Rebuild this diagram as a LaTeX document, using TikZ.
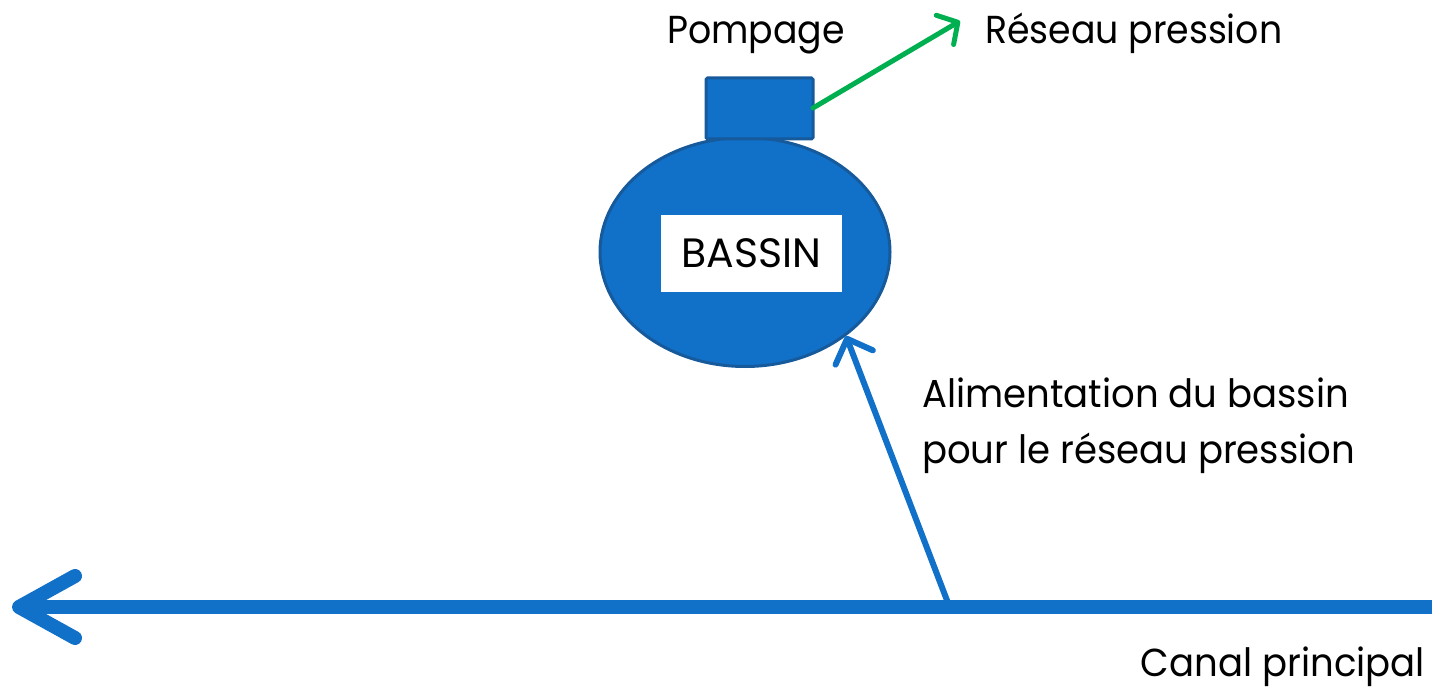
\documentclass[tikz,border=0pt]{standalone}
\usepackage{fontspec}
\setmainfont{Poppins}[FakeStretch=0.93]
\newfontfamily\titrefont{Poppins}
\newfontfamily\widefont{Poppins}[FakeStretch=0.95]
\usetikzlibrary{shapes.geometric,arrows.meta}
\definecolor{bleu}{HTML}{1170C8}
\definecolor{bord}{HTML}{175A9C}
\definecolor{vert}{HTML}{00B050}
\tikzset{
  bloc/.style={fill=bleu,draw=bord,line width=3pt},
  lbl/.style={inner sep=0pt,font=\fontsize{39}{45}\selectfont,text=black},
  barb/.style n args={2}{-{Straight Barb[length=#1,width=#2,round]}}
}
\begin{document}
\begin{tikzpicture}[x=1pt,y=-1pt]
\useasboundingbox (0,0) rectangle (1432,687);
\node[bloc,ellipse,minimum width=290pt,minimum height=229pt,inner sep=0pt] (bassin) at (745,252) {};
\node[bloc,rectangle,rounded corners=1.5pt,minimum width=107pt,minimum height=61pt,inner sep=0pt] (pompe) at (759.5,108.5) {};
\node[fill=white,minimum width=181pt,minimum height=77pt,inner sep=0pt,font=\titrefont\fontsize{41}{46}\selectfont] (titre) at (751.5,253.5) {BASSIN};
\node[lbl,anchor=base west] (pompage) at (667,44) {Pompage};
\node[lbl,anchor=base west] (reseau) at (985,44) {Réseau pression};
\node[lbl,anchor=base west,font=\widefont\fontsize{39}{45}\selectfont] (alim) at (922,407) {Alimentation du bassin};
\node[lbl,anchor=base west,font=\widefont\fontsize{39}{45}\selectfont] (alim2) at (922,463) {pour le réseau pression};
\node[lbl,anchor=base east,font=\widefont\fontsize{39}{45}\selectfont] (canal) at (1425,676) {Canal principal};
\coordinate (pA) at (813,108);
\coordinate (pB) at (960,21);
\draw[vert,line width=5pt,line cap=round,barb={15pt}{34pt}] (pA) -- (pB);
\coordinate (cR) at (1432,607);
\coordinate (cL) at (12,607);
\coordinate (cJ) at (948,603);
\coordinate (bE) at (846,336);
\draw[bleu,line width=6pt,barb={20pt}{40pt}] (cJ) -- (bE);
\draw[bleu,line width=14pt,barb={56pt}{62pt}] (cR) -- (cL);
\end{tikzpicture}
\end{document}
